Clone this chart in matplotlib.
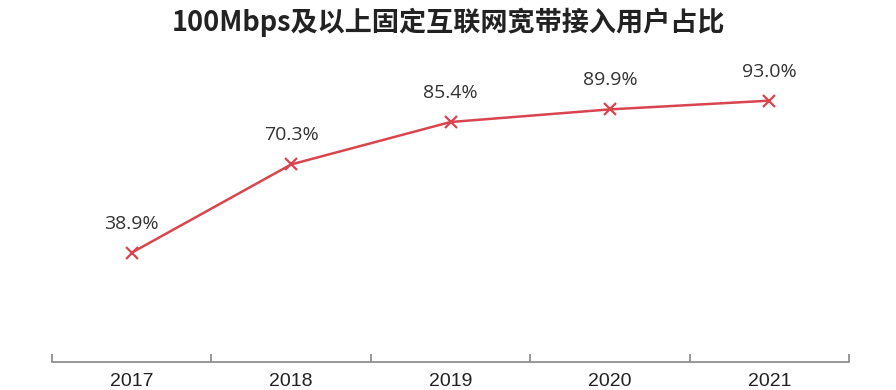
import matplotlib.pyplot as plt

plt.rcParams['font.family'] = ['Noto Sans CJK SC', 'DejaVu Sans']

years = ['2017', '2018', '2019', '2020', '2021']
share = [38.9, 70.3, 85.4, 89.9, 93.0]
labels = ['38.9%', '70.3%', '85.4%', '89.9%', '93.0%']

fig = plt.figure(figsize=(8.96, 3.9), dpi=100)
ax = fig.add_axes([52 / 896, 1 - 362 / 390, (849 - 52) / 896, (362 - 81) / 390])

x = list(range(len(years)))
ax.plot(x, share, color='#d9454f', linewidth=1.8, marker='x', markersize=9,
        markeredgewidth=1.6)
for xi, v, t in zip(x, share, labels):
    ax.annotate(t, (xi, v), xytext=(0, 21), textcoords='offset points',
                ha='center', va='center', fontsize=14, color='#333333',
                family=['Open Sans', 'DejaVu Sans'])

ax.set_xlim(-0.5, len(years) - 0.5)
ax.set_ylim(0, 100)
ax.set_yticks([])
for s in ['left', 'right', 'top']:
    ax.spines[s].set_visible(False)
ax.spines['bottom'].set_color('#888888')
ax.spines['bottom'].set_linewidth(1.2)

# ticks sit on the category boundaries, year labels in between
ax.set_xticks([i - 0.5 for i in range(len(years) + 1)])
ax.set_xticklabels([])
ax.set_xticks(x, minor=True)
ax.set_xticklabels(years, minor=True, fontsize=14, color='#222222',
                   family=['Liberation Sans Narrow', 'Liberation Sans'])
ax.tick_params(axis='x', which='major', direction='in', length=6, width=1.2,
               color='#888888')
ax.tick_params(axis='x', which='minor', length=0, pad=8)

fig.text(0.5, 1 - 22 / 390, '100Mbps及以上固定互联网宽带接入用户占比',
         ha='center', va='center', fontsize=19.5, fontweight='bold', color='#222222')

fig.savefig('out.png', dpi=100)
